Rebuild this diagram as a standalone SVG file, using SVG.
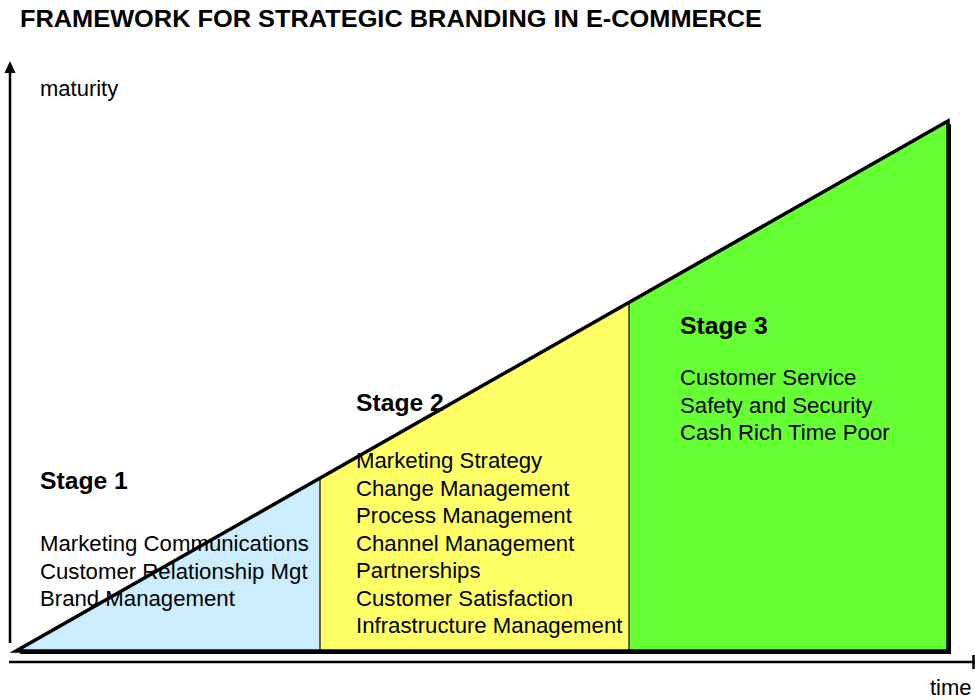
<svg xmlns="http://www.w3.org/2000/svg" width="975" height="700" viewBox="0 0 975 700">
  <style>
    text { font-family: "Liberation Sans", Arial, sans-serif; fill: #000; }
    .title { font-size: 24px; font-weight: bold; }
    .stage { font-size: 24.7px; font-weight: bold; }
    .item { font-size: 22.2px; }
    .axis-label { font-size: 22px; }
    .axis { stroke: #000; stroke-width: 2.5; fill: none; }
    .divider { stroke: #000; stroke-width: 1.2; }
    .outline { fill: none; stroke: #000; stroke-width: 3.5; stroke-linejoin: miter; }
  </style>

  <rect width="975" height="700" fill="#fff"/>

  <text class="title" x="20" y="27" textLength="742" lengthAdjust="spacingAndGlyphs">FRAMEWORK FOR STRATEGIC BRANDING IN E-COMMERCE</text>

  <!-- axes -->
  <g id="axes">
    <line class="axis" x1="10" y1="643" x2="10" y2="72"/>
    <path d="M4.5,73 L10,61 L15.5,73 Z" fill="#000"/>
    <line class="axis" x1="9" y1="662" x2="975" y2="662"/>
    <line x1="973.5" y1="655" x2="973.5" y2="669" stroke="#000" stroke-width="2.5"/>
    <text class="axis-label" x="40" y="96">maturity</text>
    <text class="axis-label" x="930" y="695">time</text>
  </g>

  <!-- growth wedge: shadow, stage fills, dividers -->
  <g id="wedge">
    <polygon points="19,654 951,654 951,124" fill="#000"/>
    <polygon id="fill-stage-1" points="16,651 320,651 320,478.1" fill="#CCECFF"/>
    <polygon id="fill-stage-2" points="320,651 629,651 629,302.4 320,478.1" fill="#FFFF66"/>
    <polygon id="fill-stage-3" points="629,651 948,651 948,121 629,302.4" fill="#66FF33"/>
    <line class="divider" x1="320" y1="478.1" x2="320" y2="651"/>
    <line class="divider" x1="629" y1="302.4" x2="629" y2="651"/>
  </g>

  <g id="stage-1">
    <text class="stage" x="40" y="489">Stage 1</text>
    <text class="item" x="40" y="551">Marketing Communications</text>
    <text class="item" x="40" y="578.5">Customer Relationship Mgt</text>
    <text class="item" x="40" y="606">Brand Management</text>
  </g>

  <g id="stage-2">
    <text class="stage" x="356" y="411">Stage 2</text>
    <text class="item" x="356" y="468">Marketing Strategy</text>
    <text class="item" x="356" y="495.5">Change Management</text>
    <text class="item" x="356" y="523">Process Management</text>
    <text class="item" x="356" y="550.5">Channel Management</text>
    <text class="item" x="356" y="578">Partnerships</text>
    <text class="item" x="356" y="605.5">Customer Satisfaction</text>
    <text class="item" x="356" y="633">Infrastructure Management</text>
  </g>

  <g id="stage-3">
    <text class="stage" x="680" y="334">Stage 3</text>
    <text class="item" x="680" y="385">Customer Service</text>
    <text class="item" x="680" y="412.5">Safety and Security</text>
    <text class="item" x="680" y="440">Cash Rich Time Poor</text>
  </g>

  <!-- wedge outline drawn last -->
  <polygon class="outline" points="16,651 948,651 948,121"/>
</svg>
